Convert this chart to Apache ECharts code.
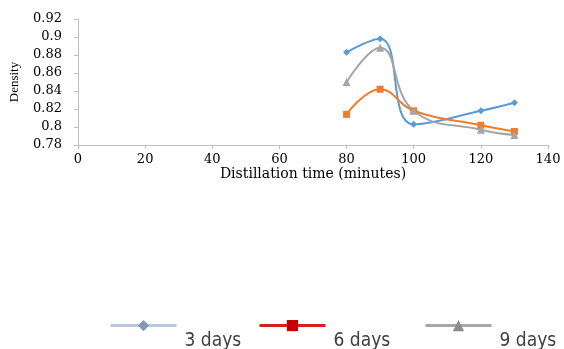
<!DOCTYPE html>
<html><head><meta charset="utf-8">
<script src="https://cdn.jsdelivr.net/npm/echarts@6/dist/echarts.min.js"></script>
<style>html,body{margin:0;padding:0;background:#fff}#c{width:564px;height:349px}</style>
</head><body><div id="c"></div>
<script>
const xValues = [80, 90, 100, 120, 130];
const days3 = [0.883, 0.898, 0.803, 0.818, 0.827];
const days6 = [0.814, 0.842, 0.818, 0.802, 0.795];
const days9 = [0.850, 0.888, 0.818, 0.797, 0.791];
const seriesNames = ['3 days', '6 days', '9 days'];

const pair = arr => xValues.map((x, i) => [x, arr[i]]);
const serifFont = '"DejaVu Serif", "Liberation Serif", serif';
const legendFont = '"DejaVu Sans Condensed", Roboto, sans-serif';

function legendFor(name, left, lineColor, markColor) {
  return {
    left: left, top: 320, itemWidth: 66, itemHeight: 14, itemGap: 0, padding: 0,
    data: [{ name: name, itemStyle: { color: markColor, borderWidth: 0 }, lineStyle: { color: lineColor, width: 3 } }],
    formatter: n => '{t|' + n + '}',
    textStyle: { rich: { t: { fontFamily: legendFont, fontSize: 19, color: '#404040', padding: [30, 0, 0, 3] } } },
    selectedMode: false
  };
}

const chart = echarts.init(document.getElementById('c'));
chart.setOption({
  animation: false,
  grid: { left: 77, right: 16, top: 19, bottom: 204 },
  xAxis: {
    type: 'value', min: 0, max: 140, interval: 20,
    name: 'Distillation time (minutes)', nameLocation: 'middle', nameGap: 22,
    nameTextStyle: { fontFamily: serifFont, fontSize: 14, color: '#000' },
    axisLine: { lineStyle: { color: '#bfbfbf' } },
    axisTick: { show: true, length: 4, lineStyle: { color: '#bfbfbf' } },
    axisLabel: { fontFamily: serifFont, fontSize: 13, color: '#000', margin: 8 },
    splitLine: { show: false }
  },
  yAxis: {
    type: 'value', min: 0.78, max: 0.92, interval: 0.02,
    name: 'Density', nameLocation: 'middle', nameGap: 57, nameRotate: 90,
    nameTextStyle: { fontFamily: '"Liberation Serif", serif', fontSize: 13, color: '#000' },
    axisLine: { show: true, lineStyle: { color: '#bfbfbf' } },
    axisTick: { show: true, length: 4, lineStyle: { color: '#bfbfbf' } },
    axisLabel: { fontFamily: serifFont, fontSize: 13, color: '#000', margin: 16,
      formatter: v => String(parseFloat(v.toFixed(2))) },
    splitLine: { show: false }
  },
  legend: [
    legendFor(seriesNames[0], 109, '#b8c7dd', '#8497b8'),
    legendFor(seriesNames[1], 258, '#d52020', '#c00000'),
    legendFor(seriesNames[2], 424, '#a6a6a6', '#8c8c8c')
  ],
  series: [
    { name: seriesNames[0], type: 'line', smooth: 0.45, data: pair(days3), symbol: 'diamond', symbolSize: 7,
      itemStyle: { color: '#5B9BD5' }, lineStyle: { width: 2, color: '#5B9BD5' } },
    { name: seriesNames[1], type: 'line', smooth: 0.45, data: pair(days6), symbol: 'rect', symbolSize: 7,
      itemStyle: { color: '#ED7D31' }, lineStyle: { width: 2, color: '#ED7D31' } },
    { name: seriesNames[2], type: 'line', smooth: 0.45, data: pair(days9), symbol: 'triangle', symbolSize: 8,
      itemStyle: { color: '#A5A5A5' }, lineStyle: { width: 2, color: '#A5A5A5' } }
  ]
});
</script></body></html>
